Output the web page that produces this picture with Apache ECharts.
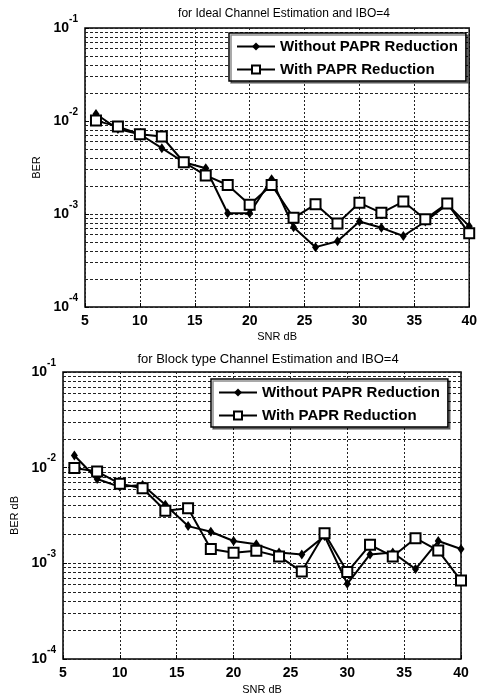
<!DOCTYPE html>
<html>
<head>
<meta charset="utf-8">
<script src="https://cdn.jsdelivr.net/npm/echarts@6/dist/echarts.min.js"></script>
<style>
  html, body { margin: 0; padding: 0; background: #fff; }
  #app { width: 480px; height: 697px; }
</style>
</head>
<body>
<div id="app"></div>
<script>
// SNR points (dB)
const snr = [6, 8, 10, 12, 14, 16, 18, 20, 22, 24, 26, 28, 30, 32, 34, 36, 38, 40];

// BER, ideal channel estimation
const idealWithout = [0.0119, 0.0082, 0.0072, 0.0051, 0.0036, 0.0031, 0.00102, 0.00102, 0.00236, 0.00072, 0.00044,
  0.00051, 0.00083, 0.00071, 0.00058, 0.00083, 0.00127, 0.00074];
const idealWith = [0.0101, 0.0087, 0.0072, 0.0068, 0.0036, 0.0026, 0.00205, 0.00126, 0.00205, 0.00091, 0.00127,
  0.00079, 0.00132, 0.00103, 0.00136, 0.00088, 0.0013, 0.00062];

// BER, block type channel estimation
const blockWithout = [0.0134, 0.0076, 0.0063, 0.0066, 0.0041, 0.00245, 0.00214, 0.00171, 0.00158, 0.0013, 0.00124,
  0.00193, 0.00061, 0.00124, 0.0013, 0.00087, 0.00171, 0.00141];
const blockWith = [0.0099, 0.0091, 0.0068, 0.0061, 0.00355, 0.00377, 0.00141, 0.00129, 0.00135, 0.00118, 0.00082,
  0.00206, 0.00081, 0.00156, 0.00118, 0.00183, 0.00136, 0.00066];

// minor log grid lines
const minorGrid = [2e-4, 3e-4, 4e-4, 5e-4, 6e-4, 7e-4, 8e-4, 9e-4,
  2e-3, 3e-3, 4e-3, 5e-3, 6e-3, 7e-3, 8e-3, 9e-3,
  2e-2, 3e-2, 4e-2, 5e-2, 6e-2, 7e-2, 8e-2, 9e-2];

const titles = ["for Ideal Channel Estimation and IBO=4", "for Block type Channel Estimation and IBO=4"];
const yNames = ["BER", "BER dB"];
const legendNames = ["Without PAPR Reduction", "With PAPR Reduction"];

const FONT = "Liberation Sans, Arial, sans-serif";

function pairs(vals) {
  return snr.map((x, i) => [x, vals[i]]);
}

function xAxisFor(idx) {
  return {
    type: "value", gridIndex: idx, min: 5, max: 40, interval: 5,
    name: "SNR dB", nameLocation: "middle", nameGap: idx === 0 ? 24 : 25,
    nameTextStyle: { fontFamily: FONT, fontSize: 11, color: "#000" },
    axisLine: { show: false },
    axisTick: { inside: true, length: 4, lineStyle: { color: "#000" } },
    axisLabel: { fontFamily: FONT, fontSize: 14, fontWeight: "bold", color: "#000", margin: 7 },
    splitLine: { show: true, lineStyle: { color: "#222", type: [2, 2], width: 1 } }
  };
}

function yAxisFor(idx) {
  return {
    type: "log", gridIndex: idx, logBase: 10, min: 1e-4, max: 1e-1,
    name: yNames[idx], nameLocation: "middle", nameGap: idx === 0 ? 36 : 40,
    nameTextStyle: { fontFamily: FONT, fontSize: 11, color: "#000" },
    axisLine: { show: false },
    axisTick: { inside: true, length: 4, lineStyle: { color: "#000" } },
    axisLabel: {
      margin: 7,
      formatter: v => "{b|10}{s|" + Math.round(Math.log10(v)) + "}",
      rich: {
        b: { fontFamily: FONT, fontSize: 14, fontWeight: "bold", color: "#000" },
        s: { fontFamily: FONT, fontSize: 10, fontWeight: "bold", color: "#000", padding: [0, 0, 18, 0] }
      }
    },
    splitLine: { show: true, lineStyle: { color: "#222", type: [3, 2], width: 1 } }
  };
}

function seriesFor(idx, without, withP) {
  return [
    {
      name: "grid" + idx, type: "line", xAxisIndex: idx, yAxisIndex: idx, data: [], silent: true,
      markLine: {
        silent: true, z: 1, precision: 8, symbol: ["none", "none"], label: { show: false },
        lineStyle: { color: "#222", type: [3, 2], width: 1 },
        data: minorGrid.map(v => ({ yAxis: v }))
      }
    },
    {
      name: legendNames[0], type: "line", xAxisIndex: idx, yAxisIndex: idx, z: 3,
      data: pairs(without),
      symbol: "diamond", symbolSize: [7, 10],
      itemStyle: { color: "#000" },
      lineStyle: { color: "#000", width: 2 }
    },
    {
      name: legendNames[1], type: "line", xAxisIndex: idx, yAxisIndex: idx, z: 4,
      data: pairs(withP),
      symbol: "emptyRect", symbolSize: 10,
      itemStyle: { color: "#000", borderWidth: 1.5 },
      lineStyle: { color: "#000", width: 2 }
    }
  ];
}

function legendFor(left, top) {
  return {
    left: left, top: top, orient: "vertical",
    data: legendNames,
    itemWidth: 38, itemHeight: 10, itemGap: 8,
    padding: [6, 8, 4, 7],
    backgroundColor: "#fff", borderColor: "#000", borderWidth: 1.5,
    shadowColor: "rgba(0,0,0,0.45)", shadowOffsetX: 2, shadowOffsetY: 2, shadowBlur: 0,
    selectedMode: false,
    textStyle: { fontFamily: FONT, fontSize: 15, fontWeight: "bold", color: "#000" }
  };
}

const chart = echarts.init(document.getElementById("app"));
chart.setOption({
  backgroundColor: "#fff",
  animation: false,
  title: [
    { text: titles[0], left: 279, top: 3, textAlign: "center",
      textStyle: { fontFamily: FONT, fontSize: 12, fontWeight: "normal", color: "#000" } },
    { text: titles[1], left: 263, top: 348, textAlign: "center",
      textStyle: { fontFamily: FONT, fontSize: 13, fontWeight: "normal", color: "#000" } }
  ],
  legend: [legendFor(229, 33), legendFor(211, 379)],
  grid: [
    { left: 85, top: 28, width: 388, height: 279, show: true, borderColor: "#000", borderWidth: 1.5, containLabel: false },
    { left: 63, top: 372, width: 398, height: 287, show: true, borderColor: "#000", borderWidth: 1.5, containLabel: false }
  ],
  xAxis: [xAxisFor(0), xAxisFor(1)],
  yAxis: [yAxisFor(0), yAxisFor(1)],
  series: [].concat(seriesFor(0, idealWithout, idealWith), seriesFor(1, blockWithout, blockWith))
});
</script>
</body>
</html>
